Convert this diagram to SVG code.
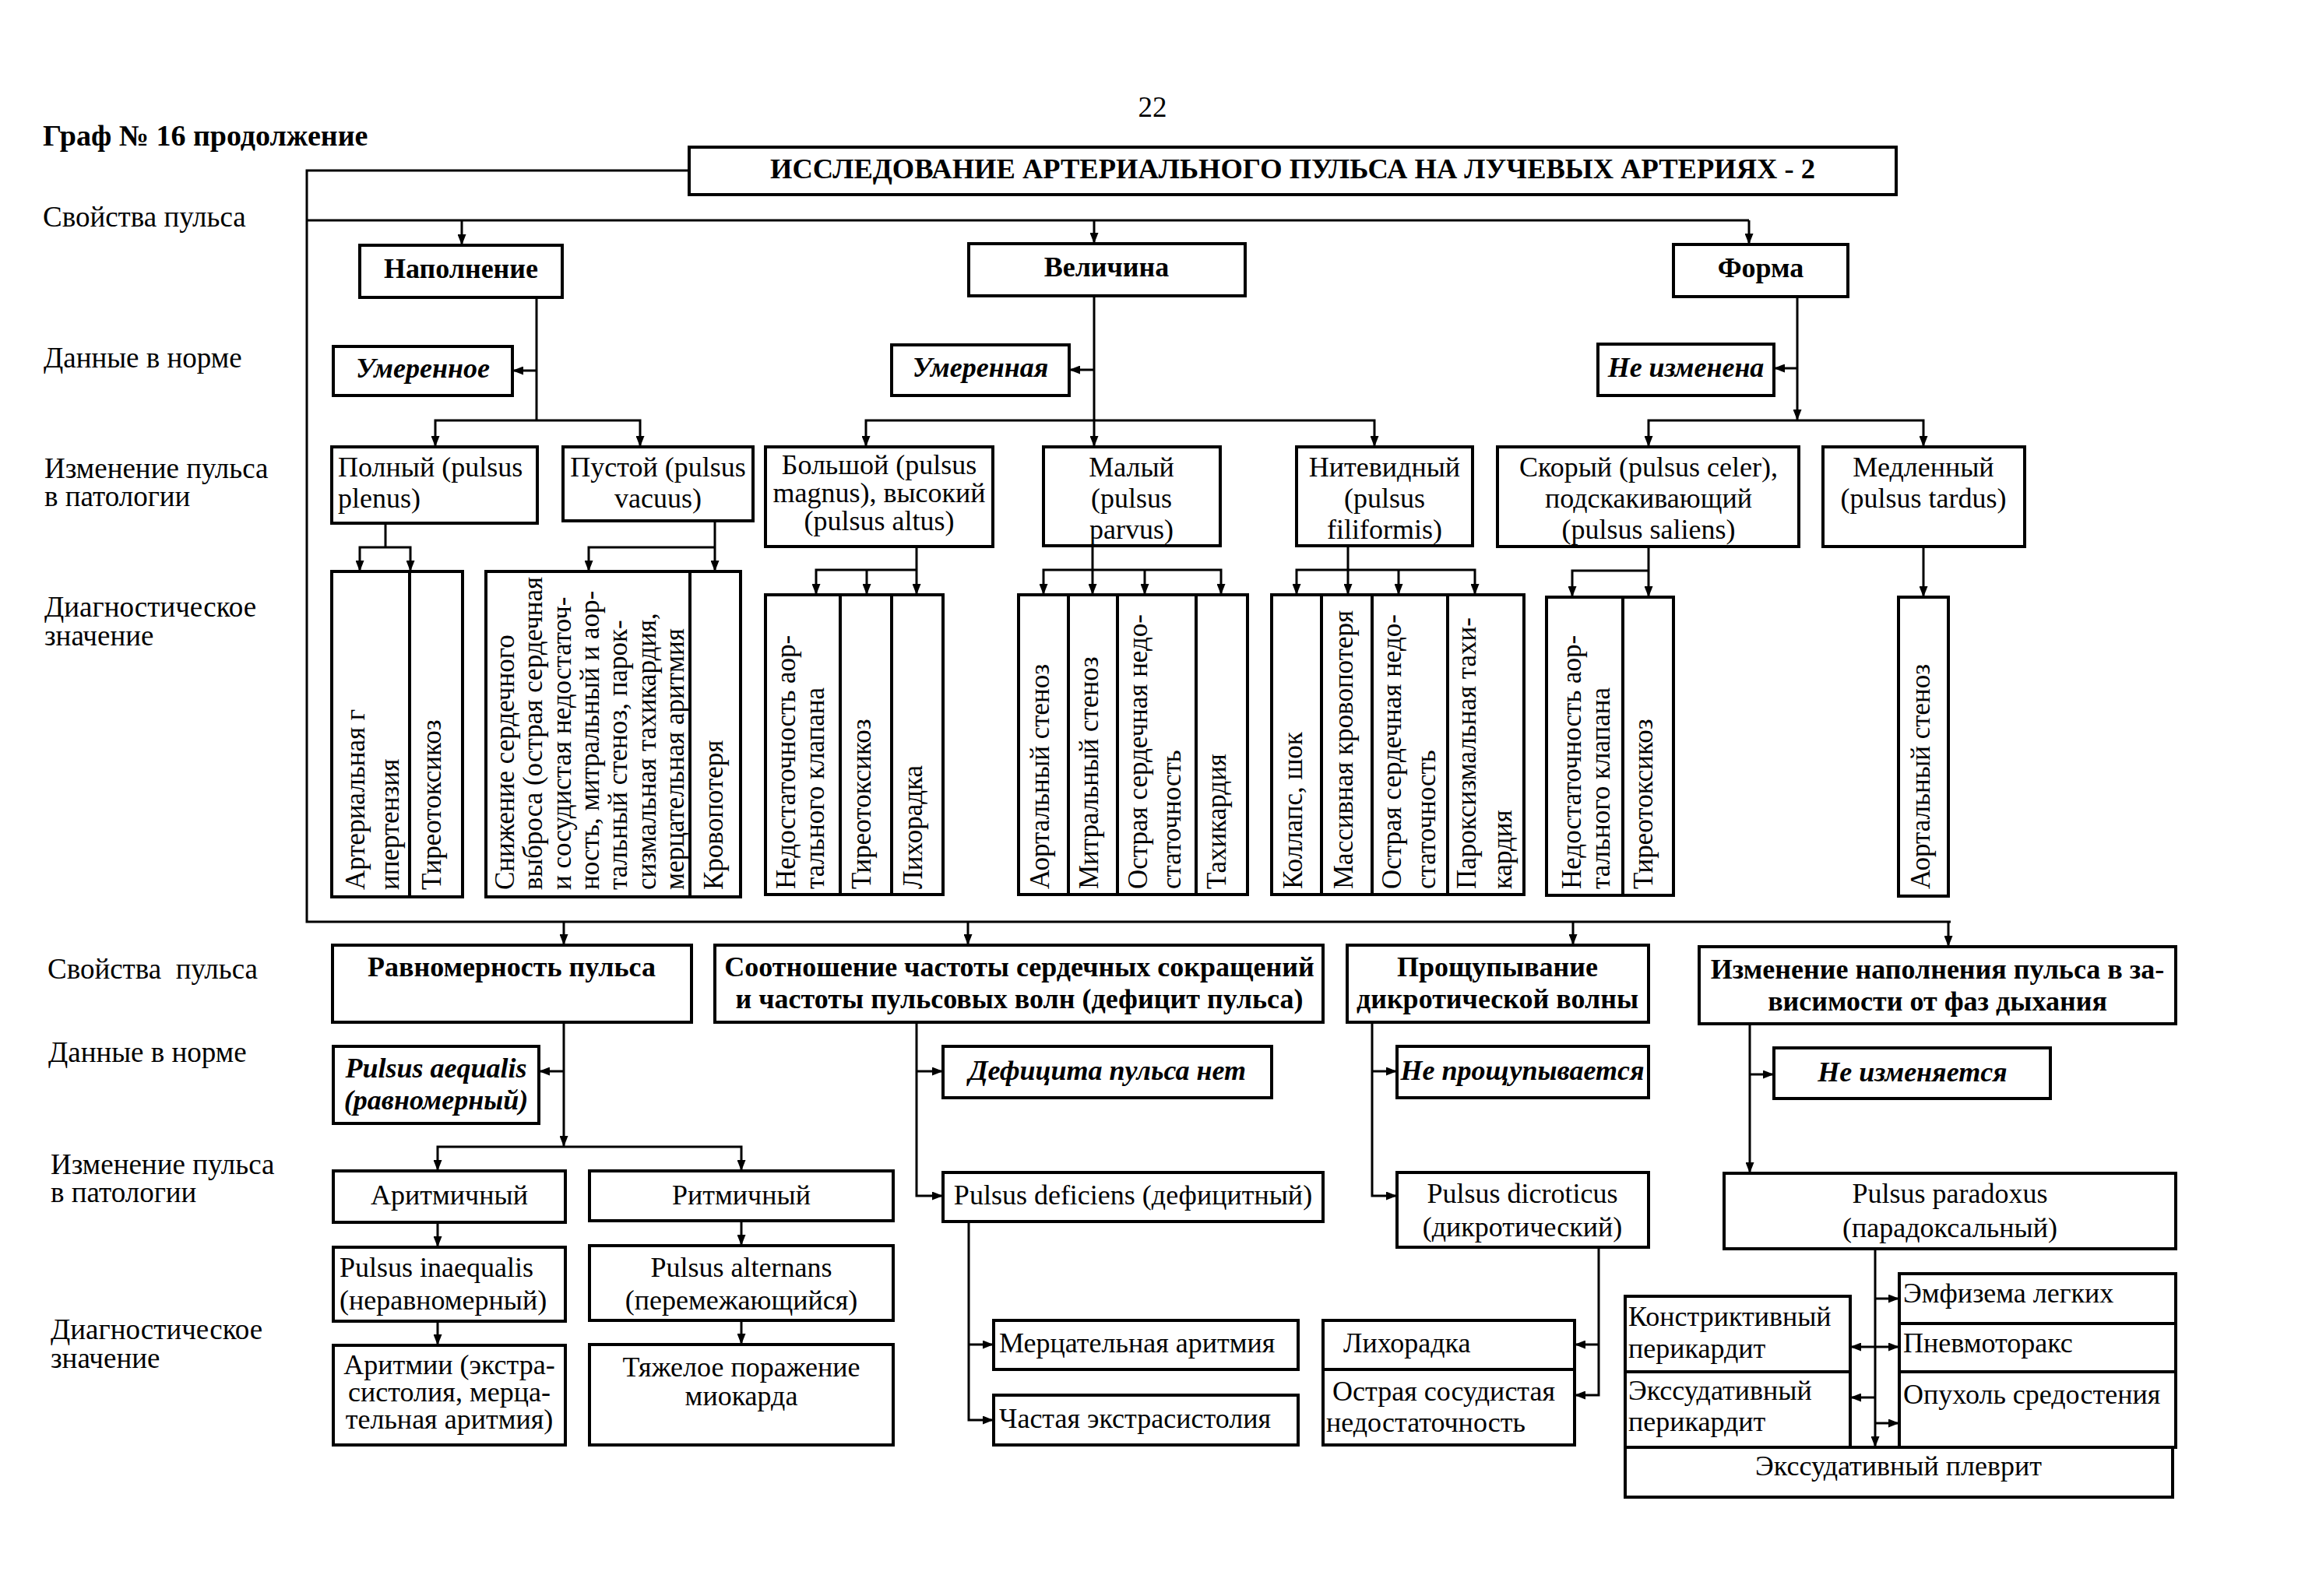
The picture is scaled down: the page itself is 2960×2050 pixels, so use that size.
<svg xmlns="http://www.w3.org/2000/svg" width="2960" height="2050" viewBox="0 0 2960 2050">
<style>
.b{fill:#fff;stroke:#000;stroke-width:4}
.t{font-family:"Liberation Serif","Times New Roman",serif;font-size:36px;fill:#000}
.v{font-size:35px}
.lb{font-size:37px}
.bd{font-weight:bold}
.it{font-style:italic}
.c{text-anchor:middle}
.ln{fill:none;stroke:#000;stroke-width:3}
.a{marker-end:url(#ah)}
</style>
<defs>
<marker id="ah" viewBox="0 0 14 11" refX="14" refY="5.5" markerWidth="14" markerHeight="11" markerUnits="userSpaceOnUse" orient="auto"><path d="M0,0 L14,5.5 L0,11 z" fill="#000"/></marker>
</defs>
<rect width="2960" height="2050" fill="#fff"/>

<g id="labels" class="t lb">
<text x="55" y="187" class="bd" style="font-size:38px">Граф № 16 продолжение</text>
<text x="1480" y="150" class="c">22</text>
<text x="55" y="291">Свойства пульса</text>
<text x="56" y="472">Данные в норме</text>
<text x="57" y="614">Изменение пульса</text>
<text x="57" y="650">в патологии</text>
<text x="57" y="792">Диагностическое</text>
<text x="57" y="829">значение</text>
<text x="61" y="1257" xml:space="preserve">Свойства  пульса</text>
<text x="62" y="1364">Данные в норме</text>
<text x="65" y="1508">Изменение пульса</text>
<text x="65" y="1544">в патологии</text>
<text x="65" y="1720">Диагностическое</text>
<text x="65" y="1757">значение</text>
</g>

<g id="connectors">
<path class="ln" d="M885,219 H394 V1184 H2505"/>
<path class="ln" d="M394,283 H2246"/>
<path class="ln a" d="M593,283 V315"/>
<path class="ln a" d="M1405,283 V313"/>
<path class="ln a" d="M2246,283 V314"/>
<path class="ln" d="M689,382 V540"/>
<path class="ln a" d="M689,476 H658"/>
<path class="ln a" d="M689,540 H559 V574"/>
<path class="ln a" d="M689,540 H822 V574"/>
<path class="ln a" d="M1405,380 V574"/>
<path class="ln a" d="M1405,475 H1373"/>
<path class="ln a" d="M1405,540 H1112 V574"/>
<path class="ln a" d="M1405,540 H1765 V574"/>
<path class="ln a" d="M2308,381 V540"/>
<path class="ln a" d="M2308,473 H2278"/>
<path class="ln a" d="M2308,540 H2117 V574"/>
<path class="ln a" d="M2308,540 H2470 V574"/>
<path class="ln" d="M495,672 V703"/>
<path class="ln a" d="M495,703 H462 V734"/>
<path class="ln a" d="M495,703 H527 V734"/>
<path class="ln a" d="M918,669 V734"/>
<path class="ln a" d="M918,703 H756 V734"/>
<path class="ln a" d="M1177,702 V764"/>
<path class="ln a" d="M1177,732 H1048 V764"/>
<path class="ln a" d="M1113,732 V764"/>
<path class="ln a" d="M1403,701 V764"/>
<path class="ln a" d="M1403,732 H1340 V764"/>
<path class="ln a" d="M1403,732 H1568 V764"/>
<path class="ln a" d="M1470,732 V764"/>
<path class="ln a" d="M1731,701 V764"/>
<path class="ln a" d="M1731,732 H1665 V764"/>
<path class="ln a" d="M1731,732 H1894 V764"/>
<path class="ln a" d="M1796,732 V764"/>
<path class="ln a" d="M2117,702 V767"/>
<path class="ln a" d="M2117,733 H2019 V767"/>
<path class="ln a" d="M2470,702 V767"/>
<path class="ln a" d="M724,1184 V1214"/>
<path class="ln a" d="M1243,1184 V1214"/>
<path class="ln a" d="M2020,1184 V1214"/>
<path class="ln a" d="M2502,1184 V1216"/>
<path class="ln a" d="M724,1313 V1473"/>
<path class="ln a" d="M724,1376 H692"/>
<path class="ln a" d="M724,1473 H562 V1504"/>
<path class="ln a" d="M724,1473 H952 V1504"/>
<path class="ln a" d="M562,1570 V1602"/>
<path class="ln a" d="M562,1697 V1728"/>
<path class="ln a" d="M952,1568 V1600"/>
<path class="ln a" d="M952,1696 V1727"/>
<path class="ln a" d="M1177,1313 V1536 H1211"/>
<path class="ln a" d="M1177,1376 H1211"/>
<path class="ln a" d="M1244,1569 V1824 H1276"/>
<path class="ln a" d="M1244,1727 H1276"/>
<path class="ln a" d="M1762,1313 V1536 H1794"/>
<path class="ln a" d="M1762,1376 H1794"/>
<path class="ln a" d="M2053,1602 V1792 H2022"/>
<path class="ln a" d="M2053,1727 H2022"/>
<path class="ln a" d="M2247,1315 V1507"/>
<path class="ln a" d="M2247,1380 H2278"/>
<path class="ln a" d="M2408,1604 V1859"/>
<path class="ln a" d="M2408,1668 H2439"/>
<path class="ln a" d="M2408,1730 H2439"/>
<path class="ln a" d="M2408,1730 H2376"/>
<path class="ln a" d="M2408,1795 H2376"/>
<path class="ln a" d="M2408,1828 H2439"/>
</g>

<g id="title"><rect class="b" x="885" y="189" width="1550" height="61"/><text class="t bd c" x="1660" y="229" style="font-size:36.5px">ИССЛЕДОВАНИЕ АРТЕРИАЛЬНОГО ПУЛЬСА НА ЛУЧЕВЫХ АРТЕРИЯХ - 2</text></g>
<g id="napolnenie"><rect class="b" x="462" y="315" width="260" height="67"/><text class="t bd c" x="592" y="357">Наполнение</text></g>
<g id="velichina"><rect class="b" x="1244" y="313" width="355" height="67"/><text class="t bd c" x="1421" y="355">Величина</text></g>
<g id="forma"><rect class="b" x="2149" y="314" width="224" height="67"/><text class="t bd c" x="2261" y="356">Форма</text></g>
<g id="umerennoe"><rect class="b" x="428" y="445" width="230" height="63"/><text class="t bd it c" x="543" y="485">Умеренное</text></g>
<g id="umerennaya"><rect class="b" x="1145" y="443" width="228" height="65"/><text class="t bd it c" x="1259" y="484">Умеренная</text></g>
<g id="ne-izmenena"><rect class="b" x="2052" y="442" width="226" height="66"/><text class="t bd it c" x="2165" y="484">Не изменена</text></g>

<g id="polnyi"><rect class="b" x="426" y="574" width="264" height="98"/><text class="t" x="434" y="612">Полный (pulsus</text><text class="t" x="434" y="652">plenus)</text></g>
<g id="pustoi"><rect class="b" x="723" y="574" width="244" height="95"/><text class="t c" x="845" y="612">Пустой (pulsus</text><text class="t c" x="845" y="652">vacuus)</text></g>
<g id="bolshoi"><rect class="b" x="983" y="574" width="292" height="128"/><text class="t c" x="1129" y="609">Большой (pulsus</text><text class="t c" x="1129" y="645">magnus), высокий</text><text class="t c" x="1129" y="681">(pulsus altus)</text></g>
<g id="malyi"><rect class="b" x="1340" y="574" width="227" height="127"/><text class="t c" x="1453" y="612">Малый</text><text class="t c" x="1453" y="652">(pulsus</text><text class="t c" x="1453" y="692">parvus)</text></g>
<g id="nitevidnyi"><rect class="b" x="1665" y="574" width="226" height="127"/><text class="t c" x="1778" y="612">Нитевидный</text><text class="t c" x="1778" y="652">(pulsus</text><text class="t c" x="1778" y="692">filiformis)</text></g>
<g id="skoryi"><rect class="b" x="1923" y="574" width="387" height="128"/><text class="t c" x="2117" y="612">Скорый (pulsus celer),</text><text class="t c" x="2117" y="652">подскакивающий</text><text class="t c" x="2117" y="692">(pulsus saliens)</text></g>
<g id="medlennyi"><rect class="b" x="2341" y="574" width="259" height="128"/><text class="t c" x="2470" y="612">Медленный</text><text class="t c" x="2470" y="652">(pulsus tardus)</text></g>

<g id="d-ag"><rect class="b" x="426" y="734" width="100" height="418"/><text class="t v" transform="translate(468,1143) rotate(-90)">Артериальная г</text><text class="t v" transform="translate(512,1143) rotate(-90)">ипертензия</text></g>
<g id="d-tireo1"><rect class="b" x="526" y="734" width="68" height="418"/><text class="t v" transform="translate(566,1143) rotate(-90)">Тиреотоксикоз</text></g>
<g id="d-snizhenie"><rect class="b" x="624" y="734" width="262" height="418"/>
<text class="t v" transform="translate(660,1143) rotate(-90)">Снижение сердечного</text>
<text class="t v" transform="translate(696,1143) rotate(-90)">выброса (острая сердечная</text>
<text class="t v" transform="translate(733,1143) rotate(-90)">и сосудистая недостаточ-</text>
<text class="t v" transform="translate(769,1143) rotate(-90)">ность, митральный и аор-</text>
<text class="t v" transform="translate(805,1143) rotate(-90)">тальный стеноз, парок-</text>
<text class="t v" transform="translate(842,1143) rotate(-90)">сизмальная тахикардия,</text>
<text class="t v" transform="translate(878,1143) rotate(-90)">мерцательная аритмия</text></g>
<g id="d-krovopoterya"><rect class="b" x="886" y="734" width="65" height="418"/><text class="t v" transform="translate(928,1143) rotate(-90)">Кровопотеря</text></g>
<g id="d-nedost1"><rect class="b" x="983" y="764" width="96" height="385"/><text class="t v" transform="translate(1021,1142) rotate(-90)">Недостаточность аор-</text><text class="t v" transform="translate(1058,1142) rotate(-90)">тального клапана</text></g>
<g id="d-tireo2"><rect class="b" x="1079" y="764" width="66" height="385"/><text class="t v" transform="translate(1118,1142) rotate(-90)">Тиреотоксикоз</text></g>
<g id="d-likh1"><rect class="b" x="1145" y="764" width="66" height="385"/><text class="t v" transform="translate(1184,1142) rotate(-90)">Лихорадка</text></g>
<g id="d-aort1"><rect class="b" x="1308" y="764" width="64" height="385"/><text class="t v" transform="translate(1347,1142) rotate(-90)">Аортальный стеноз</text></g>
<g id="d-mitr"><rect class="b" x="1372" y="764" width="63" height="385"/><text class="t v" transform="translate(1410,1142) rotate(-90)">Митральный стеноз</text></g>
<g id="d-osn1"><rect class="b" x="1435" y="764" width="101" height="385"/><text class="t v" transform="translate(1473,1142) rotate(-90)">Острая сердечная недо-</text><text class="t v" transform="translate(1516,1142) rotate(-90)">статочность</text></g>
<g id="d-takhi"><rect class="b" x="1536" y="764" width="66" height="385"/><text class="t v" transform="translate(1574,1142) rotate(-90)">Тахикардия</text></g>
<g id="d-kollaps"><rect class="b" x="1633" y="764" width="64" height="385"/><text class="t v" transform="translate(1672,1142) rotate(-90)">Коллапс, шок</text></g>
<g id="d-massiv"><rect class="b" x="1697" y="764" width="65" height="385"/><text class="t v" transform="translate(1737,1142) rotate(-90)">Массивная кровопотеря</text></g>
<g id="d-osn2"><rect class="b" x="1762" y="764" width="97" height="385"/><text class="t v" transform="translate(1799,1142) rotate(-90)">Острая сердечная недо-</text><text class="t v" transform="translate(1843,1142) rotate(-90)">статочность</text></g>
<g id="d-parox"><rect class="b" x="1859" y="764" width="98" height="385"/><text class="t v" transform="translate(1895,1142) rotate(-90)">Пароксизмальная тахи-</text><text class="t v" transform="translate(1941,1142) rotate(-90)">кардия</text></g>
<g id="d-nedost2"><rect class="b" x="1986" y="767" width="98" height="383"/><text class="t v" transform="translate(2030,1142) rotate(-90)">Недостаточность аор-</text><text class="t v" transform="translate(2067,1142) rotate(-90)">тального клапана</text></g>
<g id="d-tireo3"><rect class="b" x="2084" y="767" width="65" height="383"/><text class="t v" transform="translate(2122,1142) rotate(-90)">Тиреотоксикоз</text></g>
<g id="d-aort2"><rect class="b" x="2438" y="767" width="64" height="384"/><text class="t v" transform="translate(2478,1142) rotate(-90)">Аортальный стеноз</text></g>

<g id="ravnomernost"><rect class="b" x="427" y="1214" width="461" height="99"/><text class="t bd c" x="657" y="1254">Равномерность пульса</text></g>
<g id="sootnoshenie"><rect class="b" x="918" y="1214" width="781" height="99"/><text class="t bd c" x="1309" y="1254">Соотношение частоты сердечных сокращений</text><text class="t bd c" x="1309" y="1295">и частоты пульсовых волн (дефицит пульса)</text></g>
<g id="proshchupyvanie"><rect class="b" x="1730" y="1214" width="387" height="99"/><text class="t bd c" x="1923" y="1254">Прощупывание</text><text class="t bd c" x="1923" y="1295">дикротической волны</text></g>
<g id="izm-napolneniya"><rect class="b" x="2182" y="1216" width="612" height="99"/><text class="t bd c" x="2488" y="1257">Изменение наполнения пульса в за-</text><text class="t bd c" x="2488" y="1298">висимости от фаз дыхания</text></g>
<g id="aequalis"><rect class="b" x="428" y="1344" width="264" height="99"/><text class="t bd it c" x="560" y="1384">Pulsus aequalis</text><text class="t bd it c" x="560" y="1425">(равномерный)</text></g>
<g id="deficita-net"><rect class="b" x="1211" y="1344" width="422" height="66"/><text class="t bd it c" x="1422" y="1387">Дефицита пульса нет</text></g>
<g id="ne-proshchup"><rect class="b" x="1794" y="1344" width="323" height="66"/><text class="t bd it c" x="1955" y="1387">Не прощупывается</text></g>
<g id="ne-izmenyaetsya"><rect class="b" x="2278" y="1346" width="355" height="65"/><text class="t bd it c" x="2456" y="1389">Не изменяется</text></g>
<g id="aritmichnyi"><rect class="b" x="428" y="1504" width="298" height="66"/><text class="t c" x="577" y="1547">Аритмичный</text></g>
<g id="ritmichnyi"><rect class="b" x="757" y="1504" width="390" height="64"/><text class="t c" x="952" y="1547">Ритмичный</text></g>
<g id="inaequalis"><rect class="b" x="428" y="1602" width="298" height="95"/><text class="t" x="436" y="1640">Pulsus inaequalis</text><text class="t" x="436" y="1682">(неравномерный)</text></g>
<g id="alternans"><rect class="b" x="757" y="1600" width="390" height="96"/><text class="t c" x="952" y="1640">Pulsus alternans</text><text class="t c" x="952" y="1682">(перемежающийся)</text></g>
<g id="aritmii"><rect class="b" x="428" y="1728" width="298" height="128"/><text class="t c" x="577" y="1765">Аритмии (экстра-</text><text class="t c" x="577" y="1800">систолия, мерца-</text><text class="t c" x="577" y="1835">тельная аритмия)</text></g>
<g id="tyazheloe"><rect class="b" x="757" y="1727" width="390" height="129"/><text class="t c" x="952" y="1768">Тяжелое поражение</text><text class="t c" x="952" y="1805">миокарда</text></g>
<g id="deficiens"><rect class="b" x="1211" y="1506" width="488" height="63"/><text class="t c" x="1455" y="1547">Pulsus deficiens (дефицитный)</text></g>
<g id="dicroticus"><rect class="b" x="1794" y="1506" width="323" height="96"/><text class="t c" x="1955" y="1545">Pulsus dicroticus</text><text class="t c" x="1955" y="1588">(дикротический)</text></g>
<g id="mercatelnaya"><rect class="b" x="1276" y="1696" width="391" height="63"/><text class="t" x="1283" y="1737">Мерцательная аритмия</text></g>
<g id="chastaya"><rect class="b" x="1276" y="1792" width="391" height="64"/><text class="t" x="1283" y="1834">Частая экстрасистолия</text></g>
<g id="likhoradka"><rect class="b" x="1699" y="1696" width="323" height="63"/><text class="t" x="1725" y="1737">Лихорадка</text></g>
<g id="ostraya-sosud"><rect class="b" x="1699" y="1759" width="323" height="97"/><text class="t" x="1711" y="1799">Острая сосудистая</text><text class="t" x="1703" y="1839">недостаточность</text></g>
<g id="paradoxus"><rect class="b" x="2214" y="1507" width="580" height="97"/><text class="t c" x="2504" y="1545">Pulsus paradoxus</text><text class="t c" x="2504" y="1589">(парадоксальный)</text></g>
<g id="emfizema"><rect class="b" x="2439" y="1636" width="355" height="64"/><text class="t" x="2444" y="1673">Эмфизема легких</text></g>
<g id="pnevmotoraks"><rect class="b" x="2439" y="1700" width="355" height="62"/><text class="t" x="2444" y="1737">Пневмоторакс</text></g>
<g id="opukhol"><rect class="b" x="2439" y="1762" width="355" height="97"/><text class="t" x="2444" y="1803">Опухоль средостения</text></g>
<g id="konstriktivnyi"><rect class="b" x="2087" y="1665" width="289" height="97"/><text class="t" x="2091" y="1703">Констриктивный</text><text class="t" x="2091" y="1744">перикардит</text></g>
<g id="eksud-perikardit"><rect class="b" x="2087" y="1762" width="289" height="97"/><text class="t" x="2091" y="1798">Экссудативный</text><text class="t" x="2091" y="1838">перикардит</text></g>
<g id="eksud-plevrit"><rect class="b" x="2087" y="1859" width="703" height="64"/><text class="t c" x="2438" y="1895">Экссудативный плеврит</text></g>
</svg>
